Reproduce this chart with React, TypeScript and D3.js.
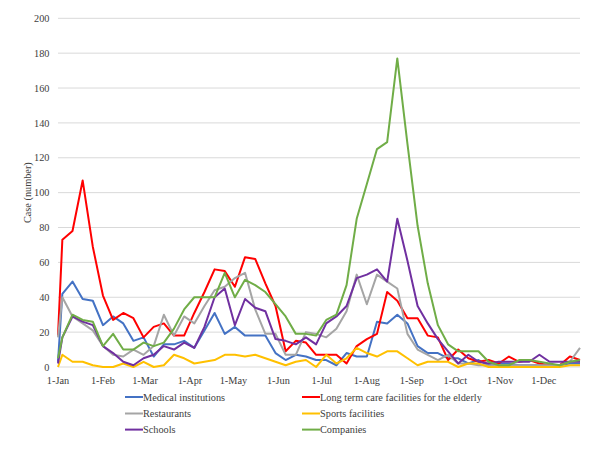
import React from "react";
import * as d3 from "d3";

const dates: string[] = [
  "2020-01-01", "2020-01-04", "2020-01-11", "2020-01-18", "2020-01-25",
  "2020-02-01", "2020-02-08", "2020-02-15", "2020-02-22", "2020-02-29",
  "2020-03-07", "2020-03-14", "2020-03-21", "2020-03-28", "2020-04-04",
  "2020-04-11", "2020-04-18", "2020-04-25", "2020-05-02", "2020-05-09",
  "2020-05-16", "2020-05-23", "2020-05-30", "2020-06-06", "2020-06-13",
  "2020-06-20", "2020-06-27", "2020-07-04", "2020-07-11", "2020-07-18",
  "2020-07-25", "2020-08-01", "2020-08-08", "2020-08-15", "2020-08-22",
  "2020-08-29", "2020-09-05", "2020-09-12", "2020-09-19", "2020-09-26",
  "2020-10-03", "2020-10-10", "2020-10-17", "2020-10-24", "2020-10-31",
  "2020-11-07", "2020-11-14", "2020-11-21", "2020-11-28", "2020-12-05",
  "2020-12-12", "2020-12-19", "2020-12-26",
];

const medical = [3, 42, 49, 39, 38, 24, 29, 25, 15, 17, 6, 13, 13, 15, 11, 21, 31, 19, 23, 18, 18, 18, 8, 4, 7, 6, 4, 4, 1, 8, 6, 6, 26, 25, 30, 25, 12, 8, 8, 5, 5, 2, 4, 1, 2, 2, 1, 1, 1, 1, 1, 2, 2];
const longTermCare = [18, 73, 78, 107, 69, 41, 27, 31, 28, 17, 23, 25, 18, 18, 31, 43, 56, 55, 46, 63, 62, 48, 35, 9, 15, 14, 7, 7, 7, 2, 12, 16, 19, 43, 38, 28, 28, 18, 17, 4, 10, 5, 3, 4, 2, 6, 3, 4, 2, 1, 1, 6, 4];
const restaurants = [17, 40, 29, 25, 21, 12, 7, 6, 10, 7, 12, 30, 18, 29, 25, 35, 44, 46, 51, 54, 33, 19, 19, 7, 7, 20, 19, 17, 22, 32, 53, 36, 53, 49, 45, 19, 10, 7, 4, 7, 2, 2, 1, 1, 1, 1, 1, 1, 1, 1, 1, 3, 11];
const sports = [0, 7, 3, 3, 1, 0, 0, 2, 0, 3, 0, 1, 7, 5, 2, 3, 4, 7, 7, 6, 7, 5, 3, 1, 3, 4, 0, 7, 2, 5, 11, 8, 6, 9, 9, 5, 1, 3, 3, 3, 0, 2, 2, 0, 0, 0, 0, 0, 0, 0, 0, 1, 1];
const schools = [2, 17, 29, 26, 24, 12, 8, 3, 1, 5, 7, 12, 10, 14, 11, 23, 40, 45, 24, 39, 34, 32, 16, 15, 13, 17, 13, 25, 29, 35, 51, 53, 56, 49, 85, 61, 35, 25, 16, 9, 2, 7, 3, 2, 3, 3, 3, 3, 7, 3, 3, 3, 3];
const companies = [5, 17, 30, 27, 26, 12, 19, 10, 10, 14, 12, 14, 22, 33, 40, 40, 40, 54, 40, 50, 47, 43, 36, 29, 19, 19, 18, 27, 30, 47, 85, 105, 125, 129, 177, 128, 81, 48, 24, 13, 9, 9, 9, 3, 1, 1, 4, 4, 3, 2, 1, 3, 4];

const seriesNames = [
  "Medical institutions",
  "Long term care facilities for the elderly",
  "Restaurants",
  "Sports facilities",
  "Schools",
  "Companies",
];
const seriesValues = [medical, longTermCare, restaurants, sports, schools, companies];
const seriesColors = ["#4472C4", "#FF0000", "#A5A5A5", "#FFC000", "#7030A0", "#70AD47"];

const yTicks = [0, 20, 40, 60, 80, 100, 120, 140, 160, 180, 200];
const monthTicks = [
  "2020-01-01", "2020-02-01", "2020-03-01", "2020-04-01", "2020-05-01", "2020-06-01",
  "2020-07-01", "2020-08-01", "2020-09-01", "2020-10-01", "2020-11-01", "2020-12-01",
];
const yTitle = "Case (number)";

const parse = d3.utcParse("%Y-%m-%d");
const fmt = d3.utcFormat("%-d-%b");

const FONT = "Liberation Serif, Times New Roman, DejaVu Serif, serif";

export default function App() {
  const W = 600, H = 450;
  const left = 58, right = 580, top = 18.3, bottom = 367;
  const dateObjs = dates.map((d) => parse(d) as Date);
  const x = d3.scaleUtc().domain([dateObjs[0], dateObjs[dateObjs.length - 1]]).range([left, right]);
  const y = d3.scaleLinear().domain([0, 200]).range([bottom, top]);
  const ts = { fontFamily: FONT, fontSize: "10.3px", fill: "#404040" } as React.CSSProperties;

  const line = d3
    .line<number>()
    .x((_, i) => x(dateObjs[i]))
    .y((v) => y(v));

  const legendRows = [397, 413.5, 429.6];
  const legendCols = [125, 302];

  return (
    <svg
      width={W}
      height={H}
      style={{ position: "absolute", left: 0, top: 0, background: "#fff", fontFamily: FONT }}
    >
      <rect x={0} y={0} width={W} height={H} fill="#fff" />
      {yTicks.map((t) => (
        <g key={t}>
          {t > 0 && (
            <line x1={left} x2={right} y1={y(t)} y2={y(t)} stroke="#d9d9d9" strokeWidth={1} />
          )}
          <text x={49.5} y={y(t)} dy="0.35em" textAnchor="end" style={ts}>
            {t}
          </text>
        </g>
      ))}
      <line x1={left} x2={right} y1={bottom} y2={bottom} stroke="#d9d9d9" strokeWidth={1} />
      {monthTicks.map((m) => {
        const d = parse(m) as Date;
        return (
          <text key={m} x={x(d)} y={383.5} textAnchor="middle" style={ts}>
            {fmt(d)}
          </text>
        );
      })}
      <text
        transform={`translate(31,${(top + bottom) / 2}) rotate(-90)`}
        textAnchor="middle"
        style={ts}
      >
        {yTitle}
      </text>
      {seriesValues.map((vals, i) => (
        <path
          key={seriesNames[i]}
          d={line(vals) || ""}
          fill="none"
          stroke={seriesColors[i]}
          strokeWidth={2}
          strokeLinejoin="round"
        />
      ))}
      {seriesNames.map((name, i) => {
        const lx = legendCols[i % 2];
        const ly = legendRows[Math.floor(i / 2)];
        return (
          <g key={name}>
            <line x1={lx} x2={lx + 18} y1={ly} y2={ly} stroke={seriesColors[i]} strokeWidth={2} />
            <text x={lx + 18} y={ly} dy="0.35em" style={ts}>
              {name}
            </text>
          </g>
        );
      })}
    </svg>
  );
}
